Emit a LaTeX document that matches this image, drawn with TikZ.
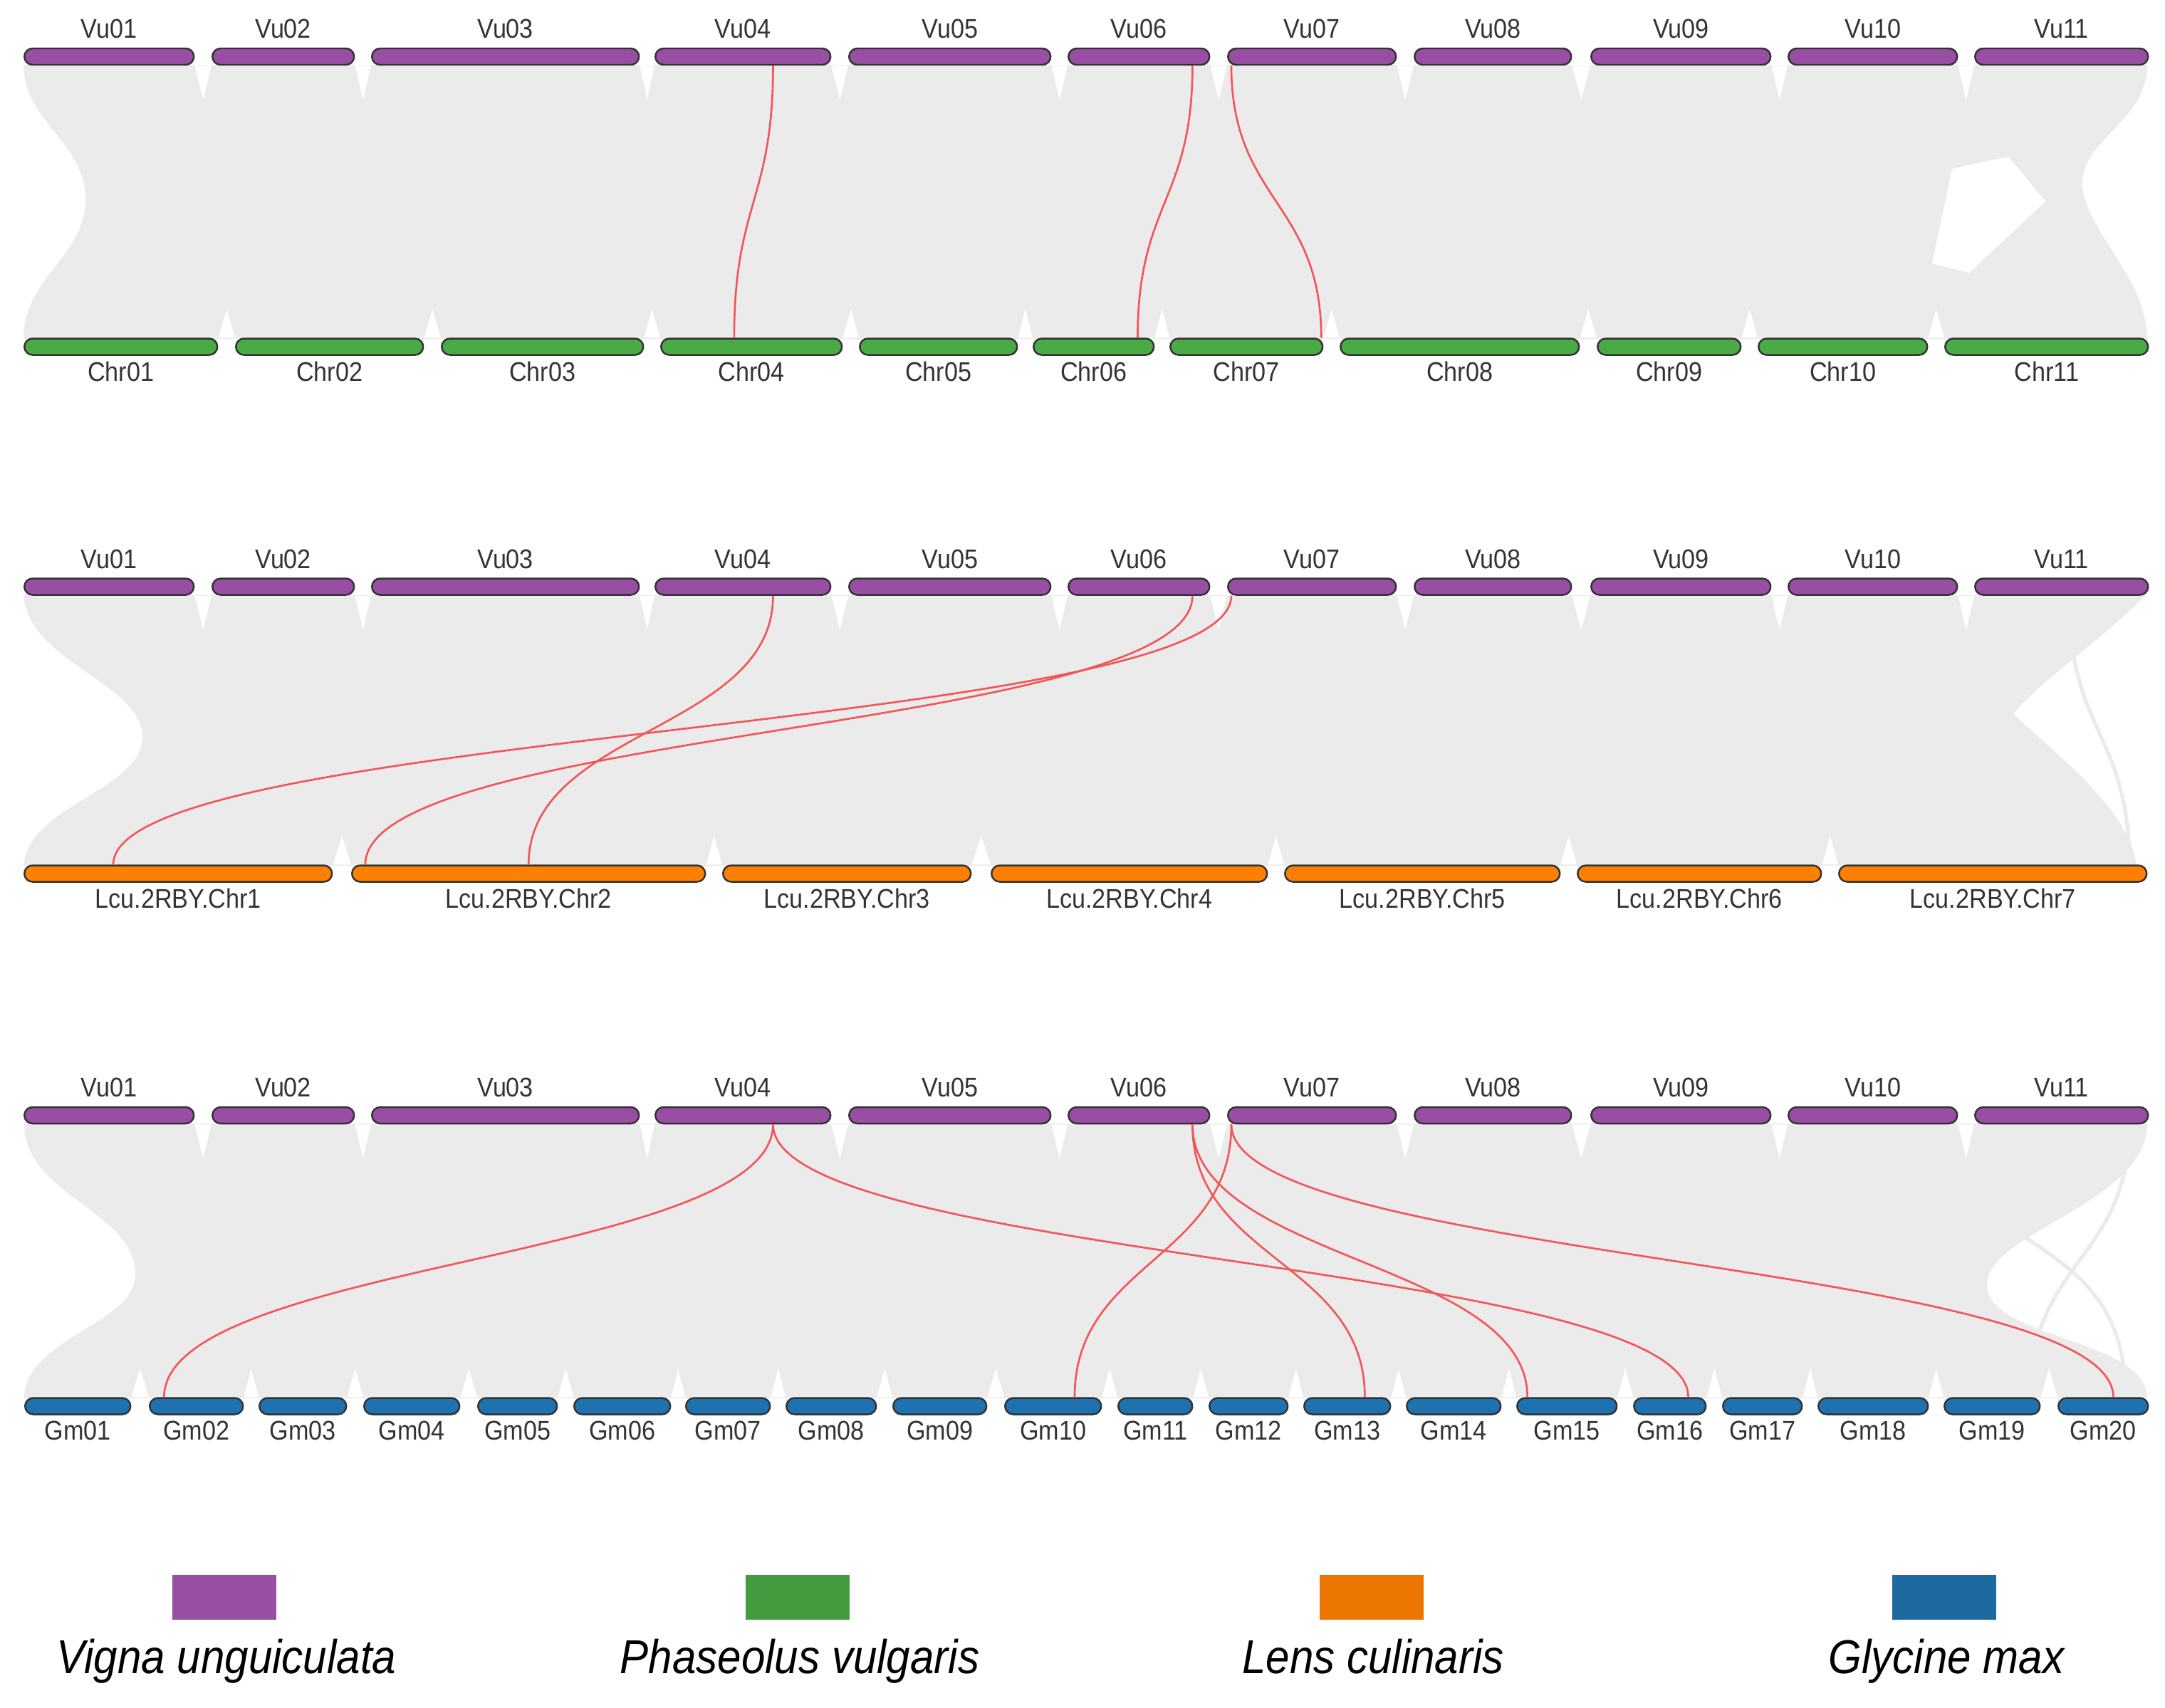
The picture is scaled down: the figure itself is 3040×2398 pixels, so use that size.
\documentclass[tikz,border=0pt]{standalone}
\usepackage{fontspec}
\setmainfont{Liberation Sans}
\newfontfamily\chrfont[FakeStretch=0.9]{Liberation Sans}
\usetikzlibrary{calc,backgrounds}
\definecolor{vigna}{HTML}{984EA3}
\definecolor{phaseolus}{HTML}{4AAA46}
\definecolor{lens}{HTML}{FF7F00}
\definecolor{glycine}{HTML}{1F72B0}
\definecolor{bandgray}{HTML}{EBEBEB}
\definecolor{linkred}{HTML}{F25558}

\begin{document}
\begin{tikzpicture}[x=0.1mm, y=-0.1mm,
  chrom/.style={draw=black!80, line width=0.7pt, rounded corners=1.15mm, minimum height=2.3mm, inner sep=0pt, anchor=west},
  vubar/.style={chrom, fill=vigna},
  pvbar/.style={chrom, fill=phaseolus},
  lcbar/.style={chrom, fill=lens},
  gmbar/.style={chrom, fill=glycine},
  lbl/.style={font=\chrfont\fontsize{10.8}{12}\selectfont, text=black!80, inner sep=0pt},
  toplbl/.style={label={[lbl, label distance=1.2mm]above:#1}},
  botlbl/.style={label={[lbl, label distance=0.8mm]below:#1}},
  band/.style={fill=bandgray},
  notch/.style={fill=white},
  syn/.style={draw=linkred, line width=0.75pt},
  legbox/.style={minimum width=14.6mm, minimum height=6.3mm, inner sep=0pt},
  legtxt/.style={font=\chrfont\itshape\fontsize{19}{22}\selectfont, inner sep=0pt, anchor=base},
]
\useasboundingbox (0,0) rectangle (3040,2398);

% Vigna rows
\foreach \row/\yc in {a/79.5, b/824, c/1566.5}
  \foreach \i/\nm/\a/\b in {1/01/33/271, 2/02/297/496, 3/03/521/896, 4/04/919/1165, 5/05/1191/1474, 6/06/1499/1697, 7/07/1723/1959, 8/08/1985/2205, 9/09/2233/2485, 10/10/2510/2747, 11/11/2772/3015}
    \node[vubar, minimum width={(\b-\a)*0.1mm}, toplbl=Vu\nm] (\row vu\i) at (\a,\yc) {};

% partner genomes
\foreach \i/\nm/\a/\b in {1/01/33/304, 2/02/330/593, 3/03/619/902, 4/04/927/1181, 5/05/1206/1427, 6/06/1450/1619, 7/07/1642/1856, 8/08/1881/2216, 9/09/2242/2443, 10/10/2468/2705, 11/11/2730/3015}
  \node[pvbar, minimum width={(\b-\a)*0.1mm}, botlbl=Chr\nm] (pv\i) at (\a,487) {};
\foreach \i/\a/\b in {1/33/465, 2/493/989, 3/1014/1362, 4/1391/1778, 5/1803/2189, 6/2214/2556, 7/2581/3013}
  \node[lcbar, minimum width={(\b-\a)*0.1mm}, botlbl=Lcu.2RBY.Chr\i] (lc\i) at (\a,1227) {};
\foreach \i/\nm/\a/\b in {1/01/34/182, 2/02/209/340, 3/03/363/485, 4/04/510/644, 5/05/670/781, 6/06/805/940, 7/07/962/1080, 8/08/1103/1229, 9/09/1253/1384, 10/10/1410/1545, 11/11/1569/1673, 12/12/1697/1807, 13/13/1830/1951, 14/14/1974/2106, 15/15/2129/2269, 16/16/2293/2394, 17/17/2418/2529, 18/18/2552/2706, 19/19/2729/2863, 20/20/2889/3015}
  \node[gmbar, minimum width={(\b-\a)*0.1mm}, botlbl=Gm\nm] (gm\i) at (\a,1975) {};

\begin{scope}[on background layer]
  \fill[band] (33,91) -- (3015,91) .. controls (3015,170) and (2924,195) .. (2924,257) .. controls (2924,320) and (3015,390) .. (3015,476) -- (33,476) .. controls (33,390) and (120,360) .. (120,280) .. controls (120,200) and (33,170) .. cycle;
  \fill[band] (33,836) -- (3013,836) .. controls (2950,900) and (2860,960) .. (2827,1003) .. controls (2900,1070) and (2990,1140) .. (3000,1216) -- (33,1216) .. controls (40,1130) and (200,1110) .. (200,1035) .. controls (200,960) and (40,930) .. cycle;
  \fill[band] (34,1578) -- (3015,1578) .. controls (3015,1690) and (2790,1730) .. (2790,1805) .. controls (2790,1880) and (3015,1880) .. (3015,1964) -- (34,1964) .. controls (34,1880) and (190,1860) .. (190,1790) .. controls (190,1700) and (34,1680) .. cycle;
  \fill[notch] (2741,237) -- (2820,220) -- (2872,283) -- (2765,383) -- (2713,370) -- cycle;
  \draw[bandgray, line width=1.5pt] (2990,1578) .. controls (2990,1770) and (2850,1770) .. (2850,1964);
  \draw[bandgray, line width=1.5pt] (2790,1700) .. controls (2880,1770) and (2985,1800) .. (2985,1964);
  \draw[bandgray, line width=1.5pt] (2905,836) .. controls (2905,1030) and (2990,1030) .. (2990,1216);
  \foreach \row in {a,b,c}
    \foreach \i in {1,...,10} {
      \pgfmathtruncatemacro{\j}{\i+1}
      \fill[notch] (\row vu\i.south east) -- (\row vu\j.south west) -- ($(\row vu\i.south east)!0.5!(\row vu\j.south west)+(0,48)$) -- cycle;
    }
  \foreach \pre/\last in {pv/10, lc/6, gm/19}
    \foreach \i in {1,...,\last} {
      \pgfmathtruncatemacro{\j}{\i+1}
      \fill[notch] (\pre\i.north east) -- (\pre\j.north west) -- ($(\pre\i.north east)!0.5!(\pre\j.north west)+(0,-40)$) -- cycle;
    }
\end{scope}

% gene loci
\foreach \row in {a,b,c} {
  \coordinate (\row g4) at ($(\row vu4.south west)!0.67!(\row vu4.south east)$);
  \coordinate (\row g6) at ($(\row vu6.south west)!0.875!(\row vu6.south east)$);
  \coordinate (\row g7) at ($(\row vu7.south west)!0.025!(\row vu7.south east)$);
}
\coordinate (pv4g) at ($(pv4.north west)!0.405!(pv4.north east)$);
\coordinate (pv6g) at ($(pv6.north west)!0.86!(pv6.north east)$);
\coordinate (pv7g) at ($(pv7.north west)!0.985!(pv7.north east)$);
\coordinate (lc1g) at ($(lc1.north west)!0.29!(lc1.north east)$);
\coordinate (lc2a) at ($(lc2.north west)!0.04!(lc2.north east)$);
\coordinate (lc2b) at ($(lc2.north west)!0.50!(lc2.north east)$);
\coordinate (gm2g) at ($(gm2.north west)!0.16!(gm2.north east)$);
\coordinate (gm10g) at ($(gm10.north west)!0.72!(gm10.north east)$);
\coordinate (gm13g) at ($(gm13.north west)!0.70!(gm13.north east)$);
\coordinate (gm15g) at ($(gm15.north west)!0.11!(gm15.north east)$);
\coordinate (gm16g) at ($(gm16.north west)!0.75!(gm16.north east)$);
\coordinate (gm20g) at ($(gm20.north west)!0.61!(gm20.north east)$);

\foreach \s/\t in {ag4/pv4g, ag6/pv6g, ag7/pv7g, bg4/lc2b, bg6/lc2a, bg7/lc1g, cg4/gm2g, cg4/gm16g, cg6/gm13g, cg6/gm15g, cg7/gm10g, cg7/gm20g}
  \draw[syn] (\s) .. controls +(0,190) and +(0,-190) .. (\t);

% legend
\node[legbox, fill=vigna] (kvig) at (315,2243) {};
\node[legbox, fill=phaseolus!92!black] (kpha) at (1120,2243) {};
\node[legbox, fill=lens!92!black] (klen) at (1926,2243) {};
\node[legbox, fill=glycine!92!black] (kgly) at (2730,2243) {};
\node[legtxt] (tvig) at (318,2350) {Vigna unguiculata};
\node[legtxt] (tpha) at (1123,2350) {Phaseolus vulgaris};
\node[legtxt] (tlen) at (1928,2350) {Lens culinaris};
\node[legtxt] (tgly) at (2733,2350) {Glycine max};
\end{tikzpicture}
\end{document}
